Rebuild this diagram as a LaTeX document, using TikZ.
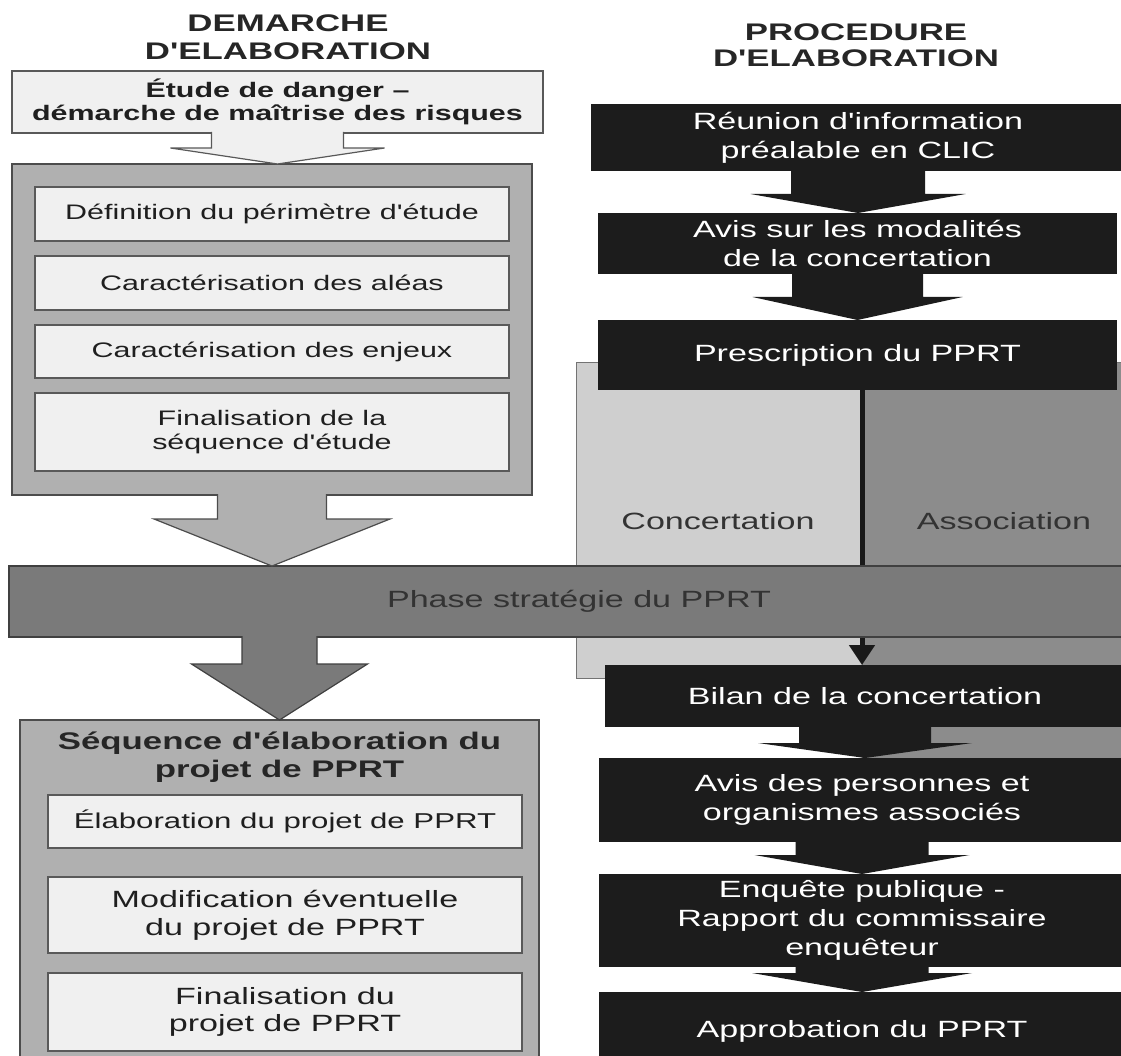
\documentclass[tikz,border=0pt]{standalone}
\usepackage{fontspec}
\newfontfamily\widesans[FakeStretch=1.45]{Liberation Sans}
\usetikzlibrary{arrows.meta}
\usetikzlibrary{calc}
\newcommand\setfs[2]{\fontsize{#1}{#2}\selectfont}
\newcommand\blockarrow[6]{%
	\path[#6] let \p1=#1, \p2=#2 in
		(\x1-#3pt,\y1+1pt) -- (\x1-#3pt,\y2+#5pt) -- (\x1-#4pt,\y2+#5pt) -- (\x1,\y2)
		-- (\x1+#4pt,\y2+#5pt) -- (\x1+#3pt,\y2+#5pt) -- (\x1+#3pt,\y1+1pt);
}

\begin{document}
\begin{tikzpicture}[x=1pt,y=-1pt,
	box/.style={rectangle,inner sep=0pt,outer sep=0pt,align=center},
	heading/.style={align=center,text=black!85,font=\widesans\bfseries\setfs{24}{28}},
	litebox/.style={box,draw=black!65,line width=1.2pt,fill=black!6,text=black!88,font=\widesans\setfs{21}{24}},
	panel/.style={box,draw=black!70,line width=1.2pt,fill=black!31},
	sidepanel/.style={box,draw=black!55,line width=0.8pt},
	darkbox/.style={box,fill=black!89,text=white,font=\widesans\setfs{23.5}{29}},
	litearrow/.style={fill=black!6,draw=black!65,line width=1.2pt},
	panelarrow/.style={fill=black!31,draw=black!70,line width=1.2pt},
	phasearrow/.style={fill=black!52,draw=black!75,line width=1.2pt},
	darkarrow/.style={fill=black!89}]
	\path[use as bounding box,clip] (0,0) rectangle (1121,1056);
	\fill[white] (0,0) rectangle (1121,1056);

	% demarche
	\node[heading] (demtitle) at (288,37.5) {DEMARCHE\\D'ELABORATION};
	\node[litebox,font=\widesans\bfseries\setfs{21}{23.5},minimum width=531pt,minimum height=62pt] (etude) at (277.5,102) {Étude de danger –\\démarche de maîtrise des risques};
	\node[panel,minimum width=520pt,minimum height=331pt] (panelA) at (272,329.5) {};
	\node[litebox,minimum width=474pt,minimum height=54pt] (perim) at (272,214) {Définition du périmètre d'étude};
	\node[litebox,minimum width=474pt,minimum height=54pt] (aleas) at (272,283) {Caractérisation des aléas};
	\node[litebox,minimum width=474pt,minimum height=53pt] (enjeux) at (272,351.5) {Caractérisation des enjeux};
	\node[litebox,minimum width=474pt,minimum height=78pt] (finseq) at (272,432) {Finalisation de la\\séquence d'étude};
	\blockarrow{(etude.south)}{(etude.south |- panelA.north)}{66}{107}{16}{litearrow}

	% procedure
	\node[heading,font=\widesans\bfseries\setfs{24}{26}] (proctitle) at (856,45) {PROCEDURE\\D'ELABORATION};
	\node[sidepanel,fill=black!19,minimum width=286pt,minimum height=316pt] (conc) at (719,520) {};
	\node[sidepanel,fill=black!45,minimum width=268pt,minimum height=396pt] (assoc) at (996,560) {};
	\node[text=black!80,font=\widesans\setfs{23.5}{28}] (conctext) at (718,521) {Concertation};
	\node[text=black!80,font=\widesans\setfs{23.5}{28}] (assoctext) at (1004,521) {Association};
	\node[darkbox,minimum width=534pt,minimum height=67pt] (reunion) at (858,137.5) {Réunion d'information\\préalable en CLIC};
	\node[darkbox,minimum width=519pt,minimum height=61pt] (modal) at (857.5,243.5) {Avis sur les modalités\\de la concertation};
	\node[darkbox,minimum width=519pt,minimum height=70pt] (presc) at (857.5,355) {Prescription du PPRT};
	\node[darkbox,minimum width=520pt,minimum height=62pt] (bilan) at (865,696) {Bilan de la concertation};
	\node[darkbox,minimum width=526pt,minimum height=84pt] (avisp) at (862,800) {Avis des personnes et\\organismes associés};
	\node[darkbox,minimum width=526pt,minimum height=93pt] (enq) at (862,920.5) {Enquête publique -\\Rapport du commissaire\\enquêteur};
	\node[darkbox,minimum width=526pt,minimum height=78pt] (approb) at (862,1031) {Approbation du PPRT};
	\draw[line width=5pt,black!90,-{Triangle[width=25pt,length=20pt]}] (presc.south -| conc.east) -- (bilan.north -| conc.east);
	\blockarrow{(reunion.south)}{(reunion.south |- modal.north)}{67}{107.5}{19}{darkarrow}
	\blockarrow{(modal.south)}{(modal.south |- presc.north)}{65.5}{105}{23}{darkarrow}
	\blockarrow{(bilan.south)}{(bilan.south |- avisp.north)}{66}{107}{15}{darkarrow}
	\blockarrow{(avisp.south)}{(avisp.south |- enq.north)}{66.5}{107.5}{19}{darkarrow}
	\blockarrow{(enq.south)}{(enq.south |- approb.north)}{66.5}{110}{19}{darkarrow}

	% phase
	\node[box,fill=black!52,draw=black!75,line width=1.2pt,minimum width=1140pt,minimum height=71pt,text=black!80,font=\widesans\setfs{23.5}{28}] (phase) at (579,601.5) {Phase stratégie du PPRT};
	\blockarrow{(panelA.south)}{(panelA.south |- phase.north)}{54.5}{118}{47}{panelarrow}

	% sequence
	\node[panel,minimum width=519pt,minimum height=350pt] (panelB) at (279.5,895) {};
	\blockarrow{(phase.south -| panelB.north)}{(panelB.north)}{37.5}{88}{56}{phasearrow}
	\node[heading] (seqtitle) at (279.5,757.5) {Séquence d'élaboration du\\projet de PPRT};
	\node[litebox,font=\widesans\setfs{21.5}{24},minimum width=474pt,minimum height=53pt] (elab) at (285,821.5) {Élaboration du projet de PPRT};
	\node[litebox,font=\widesans\setfs{23.5}{28},minimum width=474pt,minimum height=76pt] (modif) at (285,915) {Modification éventuelle\\du projet de PPRT};
	\node[litebox,font=\widesans\setfs{23.5}{27},minimum width=474pt,minimum height=78pt] (finproj) at (285,1012) {Finalisation du\\projet de PPRT};
\end{tikzpicture}
\end{document}
